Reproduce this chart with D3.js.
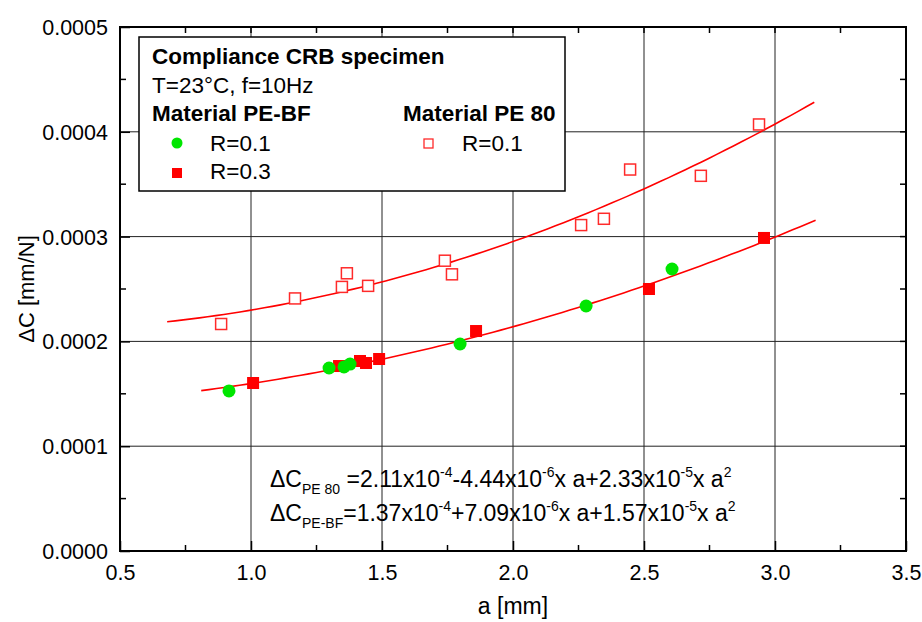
<!DOCTYPE html>
<html><head><meta charset="utf-8">
<script src="https://cdn.jsdelivr.net/npm/d3@7/dist/d3.min.js"></script>
<style>body{margin:0;background:#fff}svg{display:block;font-family:"Liberation Sans",Arial,sans-serif}</style>
</head><body><svg id="c" width="922" height="622"></svg>
<script>
// ---- data ----
const xTicks = [0.5, 1.0, 1.5, 2.0, 2.5, 3.0, 3.5];
const yTicks = [0, 0.0001, 0.0002, 0.0003, 0.0004, 0.0005];
const pe80_a = [0.886, 1.168, 1.347, 1.366, 1.447, 1.740, 1.767, 2.260, 2.347, 2.447, 2.717, 2.939];
const pe80_c = [0.0002166, 0.000241, 0.000252, 0.000265, 0.000253, 0.000277, 0.000264, 0.000311, 0.000317, 0.000364, 0.000358, 0.000407];
const bf01_a = [0.916, 1.298, 1.355, 1.378, 1.798, 2.279, 2.607];
const bf01_c = [0.0001527, 0.0001746, 0.0001756, 0.0001784, 0.0001975, 0.0002338, 0.0002691];
const bf03_a = [1.008, 1.336, 1.416, 1.439, 1.489, 1.859, 2.519, 2.958];
const bf03_c = [0.0001603, 0.0001765, 0.0001813, 0.0001794, 0.0001832, 0.0002099, 0.000250, 0.0002987];
// fit coefficients printed on the chart: c0 + c1*a + c2*a^2
const fitPE80 = [2.11e-4, -4.44e-6, 2.33e-5];
const fitPEBF = [1.37e-4, 7.09e-6, 1.57e-5];
const fitRangePE80 = [0.68, 3.15];
const fitRangePEBF = [0.81, 3.155];

const svg = d3.select("#c");
const L = 120, R = 906, T = 27, B = 551;
const x = d3.scaleLinear().domain([0.5, 3.5]).range([L, R]);
const y = d3.scaleLinear().domain([0, 0.0005]).range([B, T]);
const FONT = '"Liberation Sans",Arial,sans-serif';

// grid
const g = svg.append("g");
g.selectAll(".vg").data(xTicks.slice(1, -1)).join("line")
  .attr("x1", d => x(d)).attr("x2", d => x(d)).attr("y1", T).attr("y2", B)
  .attr("stroke", "#222").attr("stroke-width", 1);
g.selectAll(".hg").data(yTicks.slice(1, -1)).join("line")
  .attr("y1", d => y(d)).attr("y2", d => y(d)).attr("x1", L).attr("x2", R)
  .attr("stroke", "#222").attr("stroke-width", 1);

// axes
const xAxis = d3.axisBottom(x).tickValues(xTicks).tickFormat(d3.format(".1f")).tickSize(-10).tickPadding(14);
const yAxis = d3.axisLeft(y).tickValues(yTicks).tickFormat(d3.format(".4f")).tickSize(-10).tickPadding(12);
const xa = svg.append("g").attr("transform", `translate(0,${B})`).call(xAxis);
const ya = svg.append("g").attr("transform", `translate(${L},0)`).call(yAxis);
[xa, ya].forEach(a => {
  a.select(".domain").remove();
  a.selectAll("text").attr("font-size", 21.5).attr("fill", "#000").attr("font-family", FONT);
  a.selectAll("line").attr("stroke", "#000").attr("stroke-width", 1.5);
});
ya.selectAll("text").attr("dy", "0.35em");
// minor ticks
const xMinor = d3.range(0.75, 3.5, 0.5);
const yMinor = d3.range(0.00005, 0.0005, 0.0001);
svg.append("g").selectAll("line").data(xMinor).join("line")
  .attr("x1", d => x(d)).attr("x2", d => x(d)).attr("y1", B).attr("y2", B - 6)
  .attr("stroke", "#000").attr("stroke-width", 1.5);
svg.append("g").selectAll("line").data(yMinor).join("line")
  .attr("y1", d => y(d)).attr("y2", d => y(d)).attr("x1", L).attr("x2", L + 6)
  .attr("stroke", "#000").attr("stroke-width", 1.5);
svg.append("g").selectAll("line").data(yMinor.concat(yTicks)).join("line")
  .attr("y1", d => y(d)).attr("y2", d => y(d)).attr("x1", R).attr("x2", R - 6)
  .attr("stroke", "#000").attr("stroke-width", 1.5);
svg.append("g").selectAll("line").data(xMinor.concat(xTicks)).join("line")
  .attr("x1", d => x(d)).attr("x2", d => x(d)).attr("y1", T).attr("y2", T + 6)
  .attr("stroke", "#000").attr("stroke-width", 1.5);
// frame
svg.append("rect").attr("x", L).attr("y", T).attr("width", R - L).attr("height", B - T)
  .attr("fill", "none").attr("stroke", "#000").attr("stroke-width", 2);

// axis titles
svg.append("text").attr("x", (L + R) / 2).attr("y", 614).attr("text-anchor", "middle")
  .attr("font-size", 23).text("a [mm]");
svg.append("text").attr("transform", `translate(34,${(T + B) / 2}) rotate(-90)`).attr("text-anchor", "middle")
  .attr("font-size", 22).text("ΔC [mm/N]");

// fit curves
function curve(coef, range) {
  const n = 80, pts = [];
  for (let i = 0; i <= n; i++) {
    const a = range[0] + (range[1] - range[0]) * i / n;
    pts.push([a, coef[0] + coef[1] * a + coef[2] * a * a]);
  }
  return pts;
}
const line = d3.line().x(d => x(d[0])).y(d => y(d[1]));
svg.append("path").attr("d", line(curve(fitPE80, fitRangePE80))).attr("fill", "none").attr("stroke", "#ff0000").attr("stroke-width", 1.6);
svg.append("path").attr("d", line(curve(fitPEBF, fitRangePEBF))).attr("fill", "none").attr("stroke", "#ff0000").attr("stroke-width", 1.6);

// markers
const s1 = 11;
svg.append("g").selectAll("rect").data(d3.zip(pe80_a, pe80_c)).join("rect")
  .attr("x", d => x(d[0]) - s1 / 2).attr("y", d => y(d[1]) - s1 / 2).attr("width", s1).attr("height", s1)
  .attr("fill", "#fff").attr("stroke", "#ff2a2a").attr("stroke-width", 1.5);
const s2 = 12;
svg.append("g").selectAll("rect").data(d3.zip(bf03_a, bf03_c)).join("rect")
  .attr("x", d => x(d[0]) - s2 / 2).attr("y", d => y(d[1]) - s2 / 2).attr("width", s2).attr("height", s2)
  .attr("fill", "#ff0000");
svg.append("g").selectAll("circle").data(d3.zip(bf01_a, bf01_c)).join("circle")
  .attr("cx", d => x(d[0])).attr("cy", d => y(d[1])).attr("r", 6.5)
  .attr("fill", "#00e600");

// legend
const lg = svg.append("g");
lg.append("rect").attr("x", 139).attr("y", 37).attr("width", 426).attr("height", 154)
  .attr("fill", "#fff").attr("stroke", "#000").attr("stroke-width", 1.5);
const txt = (xx, yy, s, bold) => lg.append("text").attr("x", xx).attr("y", yy).attr("font-size", 22.5)
  .attr("font-weight", bold ? "bold" : "normal").text(s);
txt(152, 64, "Compliance CRB specimen", true);
txt(152, 93, "T=23°C, f=10Hz", false);
txt(152, 121, "Material PE-BF", true);
txt(403, 121, "Material PE 80", true);
lg.append("circle").attr("cx", 177).attr("cy", 143).attr("r", 5.5).attr("fill", "#00e600");
txt(210, 151, "R=0.1", false);
lg.append("rect").attr("x", 172).attr("y", 168).attr("width", 10).attr("height", 10).attr("fill", "#ff0000");
txt(210, 179, "R=0.3", false);
lg.append("rect").attr("x", 424).attr("y", 139).attr("width", 9).attr("height", 9).attr("fill", "#fff").attr("stroke", "#ff2a2a").attr("stroke-width", 1.3);
txt(462, 151, "R=0.1", false);

// equations
function eq(yy, parts) {
  const t = svg.append("text").attr("x", 270).attr("y", yy).attr("font-size", 23);
  let shift = 0;
  parts.forEach(([s, mode]) => {
    const target = mode === "sub" ? 7 : mode === "sup" ? -10 : 0;
    t.append("tspan").attr("dy", target - shift).attr("font-size", mode ? 14 : 23).text(s);
    shift = target;
  });
}
eq(487, [["ΔC"], ["PE 80", "sub"], [" =2.11x10"], ["-4", "sup"], ["-4.44x10"], ["-6", "sup"], ["x a+2.33x10"], ["-5", "sup"], ["x a"], ["2", "sup"]]);
eq(521, [["ΔC"], ["PE-BF", "sub"], ["=1.37x10"], ["-4", "sup"], ["+7.09x10"], ["-6", "sup"], ["x a+1.57x10"], ["-5", "sup"], ["x a"], ["2", "sup"]]);
</script></body></html>
